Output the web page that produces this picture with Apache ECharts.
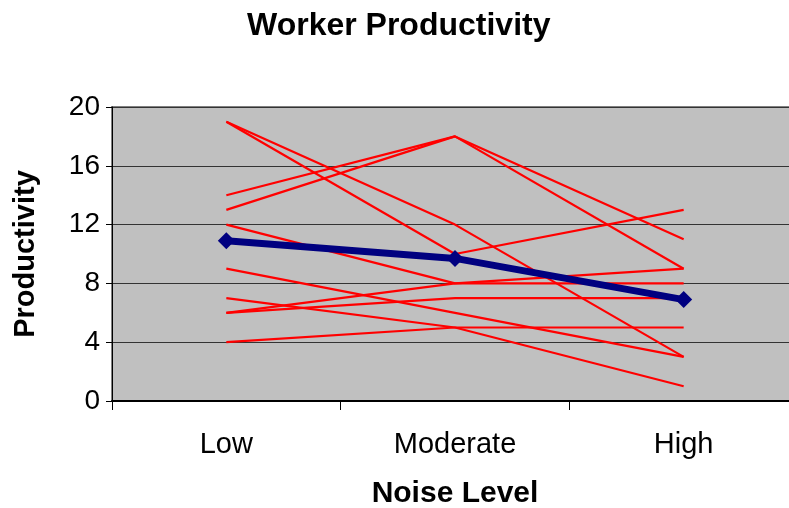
<!DOCTYPE html>
<html>
<head>
<meta charset="utf-8">
<title>Worker Productivity</title>
<script src="https://cdn.jsdelivr.net/npm/echarts@6/dist/echarts.min.js"></script>
<style>
  html, body { margin: 0; padding: 0; background: #ffffff; }
  #chart { width: 789px; height: 508px; }
</style>
</head>
<body>
<div id="chart"></div>
<script>
// Noise levels on the category axis
const noiseLevels = ['Low', 'Moderate', 'High'];

// Productivity of each worker at each noise level
const worker1 = [19, 10, 13];
const worker2 = [19, 12, 3];
const worker3 = [14, 18, 11];
const worker4 = [13, 18, 9];
const worker5 = [12, 8, 8];
const worker6 = [9, 6, 3];
const worker7 = [7, 5, 1];
const worker8 = [6, 8, 9];
const worker9 = [6, 7, 7];
const worker10 = [4, 5, 5];

// Average productivity per noise level
const averageProductivity = [10.9, 9.7, 6.9];

// Value axis ticks
const yMin = 0;
const yMax = 20;
const yStep = 4;

const workers = [worker1, worker2, worker3, worker4, worker5,
                 worker6, worker7, worker8, worker9, worker10];

const FONT = '"Liberation Sans", Arial, sans-serif';

const workerSeries = workers.map((values, i) => ({
  name: 'Worker ' + (i + 1),
  type: 'line',
  data: values,
  showSymbol: false,
  symbol: 'none',
  lineStyle: { color: '#ff0000', width: 2.2 },
  z: 2,
  silent: true
}));

const averageSeries = {
  name: 'Average',
  type: 'line',
  data: averageProductivity,
  symbol: 'diamond',
  symbolSize: 17,
  itemStyle: { color: '#000080' },
  lineStyle: { color: '#000080', width: 7 },
  z: 5,
  silent: true
};

const chart = echarts.init(document.getElementById('chart'), null, { renderer: 'canvas' });

chart.setOption({
  animation: false,
  backgroundColor: '#ffffff',
  title: {
    text: 'Worker Productivity',
    left: 242,
    top: 5,
    textStyle: { fontFamily: FONT, fontSize: 32, fontWeight: 'bold', color: '#000000' }
  },
  grid: {
    left: 112,
    width: 686,
    top: 107,
    height: 294,
    outerBoundsMode: 'none',
    containLabel: false,
    show: true,
    backgroundColor: '#c0c0c0',
    borderColor: '#808080',
    borderWidth: 2
  },
  xAxis: {
    type: 'category',
    data: noiseLevels,
    boundaryGap: true,
    name: 'Noise Level',
    nameLocation: 'middle',
    nameGap: 78,
    nameTextStyle: { fontFamily: FONT, fontSize: 30, fontWeight: 'bold', color: '#000000' },
    axisLine: { show: true, lineStyle: { color: '#000000', width: 2 } },
    axisTick: { show: true, length: 9, lineStyle: { color: '#000000', width: 1 } },
    axisLabel: { fontFamily: FONT, fontSize: 29, color: '#000000', margin: 29 },
    splitLine: { show: false }
  },
  yAxis: {
    type: 'value',
    min: yMin,
    max: yMax,
    interval: yStep,
    name: 'Productivity',
    nameLocation: 'middle',
    nameGap: 72,
    nameTextStyle: { fontFamily: FONT, fontSize: 29, fontWeight: 'bold', color: '#000000' },
    axisLine: { show: true, lineStyle: { color: '#000000', width: 1 } },
    axisTick: { show: true, length: 6, lineStyle: { color: '#000000', width: 1 } },
    axisLabel: { fontFamily: FONT, fontSize: 28, color: '#000000', margin: 12 },
    splitLine: { show: true, lineStyle: { color: '#333333', width: 1 } }
  },
  series: workerSeries.concat([averageSeries])
});
</script>
</body>
</html>
